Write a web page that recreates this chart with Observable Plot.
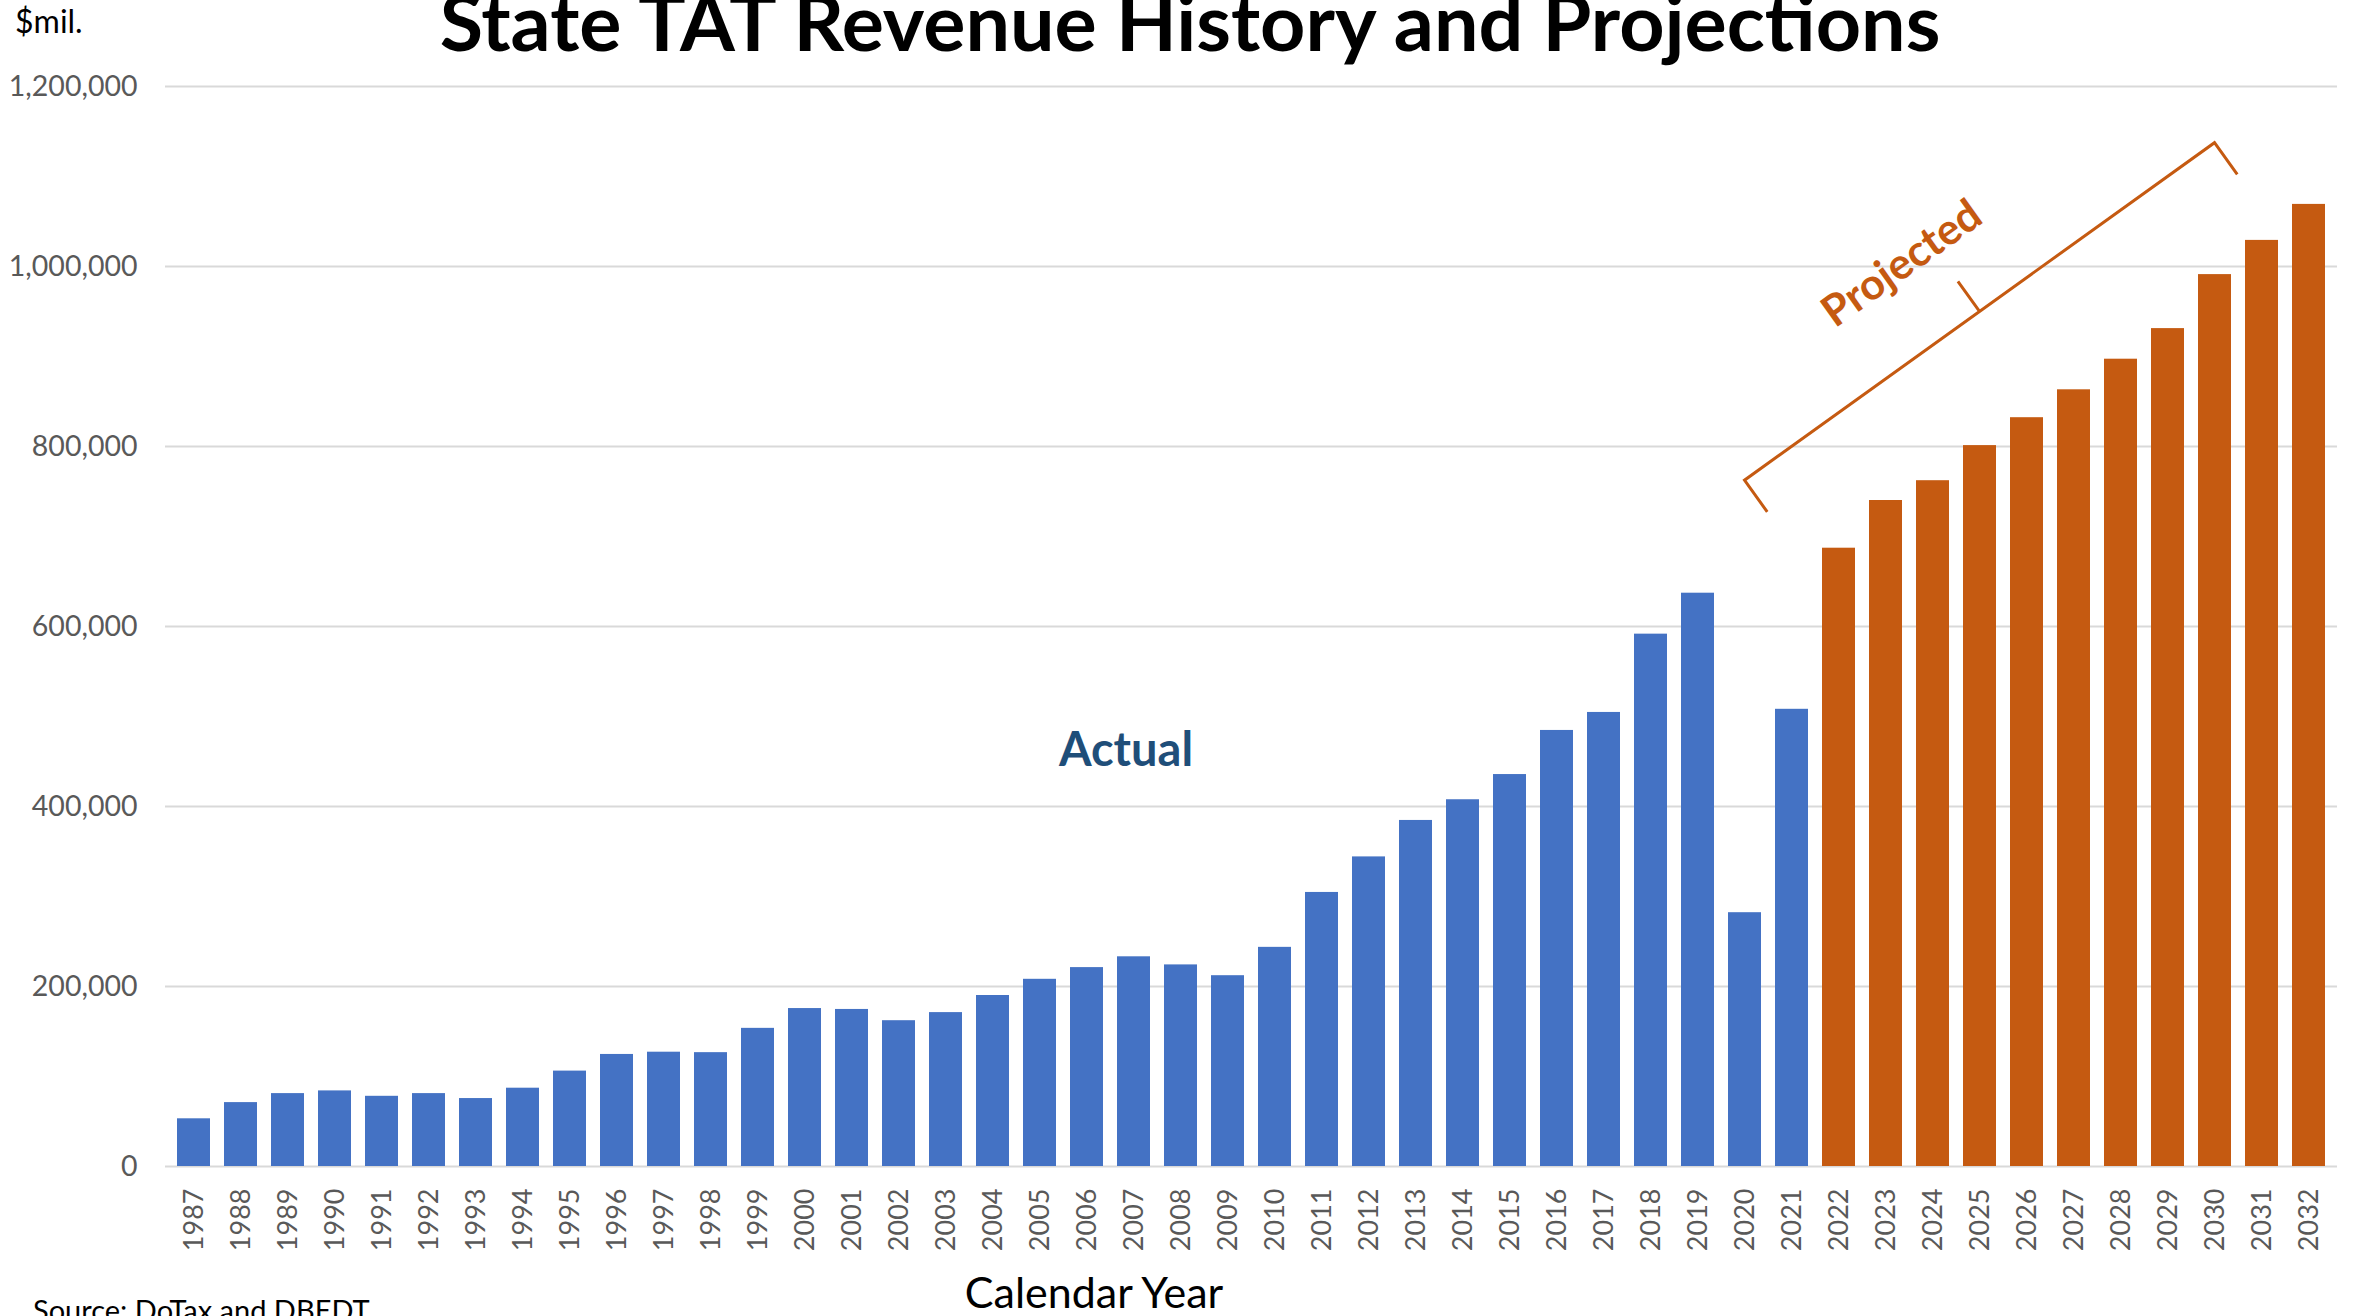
<!DOCTYPE html>
<html>
<head>
<meta charset="utf-8">
<script src="https://cdn.jsdelivr.net/npm/d3@7"></script>
<script src="https://cdn.jsdelivr.net/npm/@observablehq/plot@0.6"></script>
<style>
  html, body { margin: 0; padding: 0; background: #ffffff; overflow: hidden; }
  #chart { position: relative; width: 2359px; height: 1316px; }
</style>
</head>
<body>
<div id="chart"></div>
<script>
// ---- Data ----
const years = ["1987","1988","1989","1990","1991","1992","1993","1994","1995","1996",
  "1997","1998","1999","2000","2001","2002","2003","2004","2005","2006",
  "2007","2008","2009","2010","2011","2012","2013","2014","2015","2016",
  "2017","2018","2019","2020","2021","2022","2023","2024","2025","2026",
  "2027","2028","2029","2030","2031","2032"];

const actualValues = [53000, 71000, 81000, 84000, 78000, 81000, 75500, 87000, 106000, 124500,
  127000, 126500, 153500, 175500, 174500, 162000, 171000, 190000, 208000, 221000,
  233000, 224000, 212000, 243500, 304500, 344000, 384500, 407500, 435500, 484500,
  504500, 591500, 637000, 282000, 508000];

const projectedValues = [687000, 740000, 762000, 801000, 832000, 863000, 897000, 931000,
  991000, 1029000, 1069000];

const seriesNames = ["Actual", "Projected"];
const yTicks = [0, 200000, 400000, 600000, 800000, 1000000, 1200000];

const titleText = "State TAT Revenue History and Projections";
const unitText = "$mil.";
const xAxisTitle = "Calendar Year";
const sourceText = "Source: DoTax and DBEDT";

// annotation anchors, in data units
const actualLabel = [{year: "2007", value: 462000, label: "Actual"}];
const projectedLabel = [{year: "2023", value: 1003000, label: "Projected"}];
const bracketFrom = {year: "2020", value: 762000};
const bracketTo = {year: "2030", value: 1137000};

// ---- Build table ----
const data = years.map((year, i) => i < actualValues.length
  ? {year, value: actualValues[i], type: seriesNames[0]}
  : {year, value: projectedValues[i - actualValues.length], type: seriesNames[1]});

const BLUE = "#4472c4", ORANGE = "#c55a11", GRID = "#d9d9d9", TICK = "#595959";

const plot = Plot.plot({
  width: 2359,
  height: 1316,
  marginLeft: 165,
  marginRight: 22,
  marginTop: 86,
  marginBottom: 150,
  style: {fontFamily: "Lato, 'Open Sans', sans-serif", background: "#ffffff", overflow: "visible"},
  x: {domain: years, paddingInner: 0.3, paddingOuter: 0.15, label: null},
  y: {domain: [0, 1200000], label: null},
  color: {domain: seriesNames, range: [BLUE, ORANGE]},
  marks: [
    Plot.gridY(yTicks, {stroke: GRID, strokeOpacity: 1, strokeWidth: 2}),
    Plot.barY(data, {x: "year", y: "value", fill: "type"}),
    Plot.axisY(yTicks, {tickSize: 0, tickPadding: 28, tickFormat: d3.format(","),
      fontSize: 28.5, color: TICK, label: null}),
    Plot.axisX({tickSize: 0, tickPadding: 22, tickRotate: -90, fontSize: 27,
      color: TICK, label: null}),
    Plot.text(actualLabel, {x: "year", y: "value", text: "label", fontSize: 47,
      fontWeight: 700, fill: "#1f4e79", dx: -8}),
    Plot.text(projectedLabel, {x: "year", y: "value", text: "label", fontSize: 43,
      fontWeight: 700, fill: ORANGE, rotate: -35.5, dx: 16})
  ]
});

document.getElementById("chart").appendChild(plot);

// ---- Bracket, positioned through the plot's own scales ----
const xs = plot.scale("x"), ys = plot.scale("y");
const cx = yr => xs.apply(yr) + xs.bandwidth / 2;
const p0 = [cx(bracketFrom.year), ys.apply(bracketFrom.value)];
const p1 = [cx(bracketTo.year), ys.apply(bracketTo.value)];
const len = Math.hypot(p1[0] - p0[0], p1[1] - p0[1]);
const u = [(p1[0] - p0[0]) / len, (p1[1] - p0[1]) / len];
const n = [-u[1], u[0]];
const tickLen = 39;
const mid = [(p0[0] + p1[0]) / 2, (p0[1] + p1[1]) / 2];
const path = d3.path();
path.moveTo(p0[0] + n[0] * tickLen, p0[1] + n[1] * tickLen);
path.lineTo(p0[0], p0[1]);
path.lineTo(p1[0], p1[1]);
path.lineTo(p1[0] + n[0] * tickLen, p1[1] + n[1] * tickLen);
path.moveTo(mid[0], mid[1]);
path.lineTo(mid[0] - n[0] * 37, mid[1] - n[1] * 37);

const svg = d3.select(plot);
svg.append("path").attr("d", path.toString()).attr("fill", "none")
  .attr("stroke", ORANGE).attr("stroke-width", 3).attr("stroke-linejoin", "miter");

// ---- Titles ----
svg.append("text").text(titleText)
  .attr("x", 1190).attr("y", 51).attr("text-anchor", "middle")
  .attr("font-family", "Lato, sans-serif").attr("font-weight", 700)
  .attr("font-size", 79).attr("fill", "#000");

svg.append("text").text(unitText)
  .attr("x", 15).attr("y", 33).attr("text-anchor", "start")
  .attr("font-family", "Lato, sans-serif").attr("font-size", 32).attr("fill", "#000");

svg.append("text").text(xAxisTitle)
  .attr("x", 1094).attr("y", 1308).attr("text-anchor", "middle")
  .attr("font-family", "Lato, sans-serif").attr("font-size", 43).attr("fill", "#000");

svg.append("text").text(sourceText)
  .attr("x", 33).attr("y", 1321).attr("text-anchor", "start")
  .attr("font-family", "Lato, sans-serif").attr("font-size", 29).attr("fill", "#000");
</script>
</body>
</html>
